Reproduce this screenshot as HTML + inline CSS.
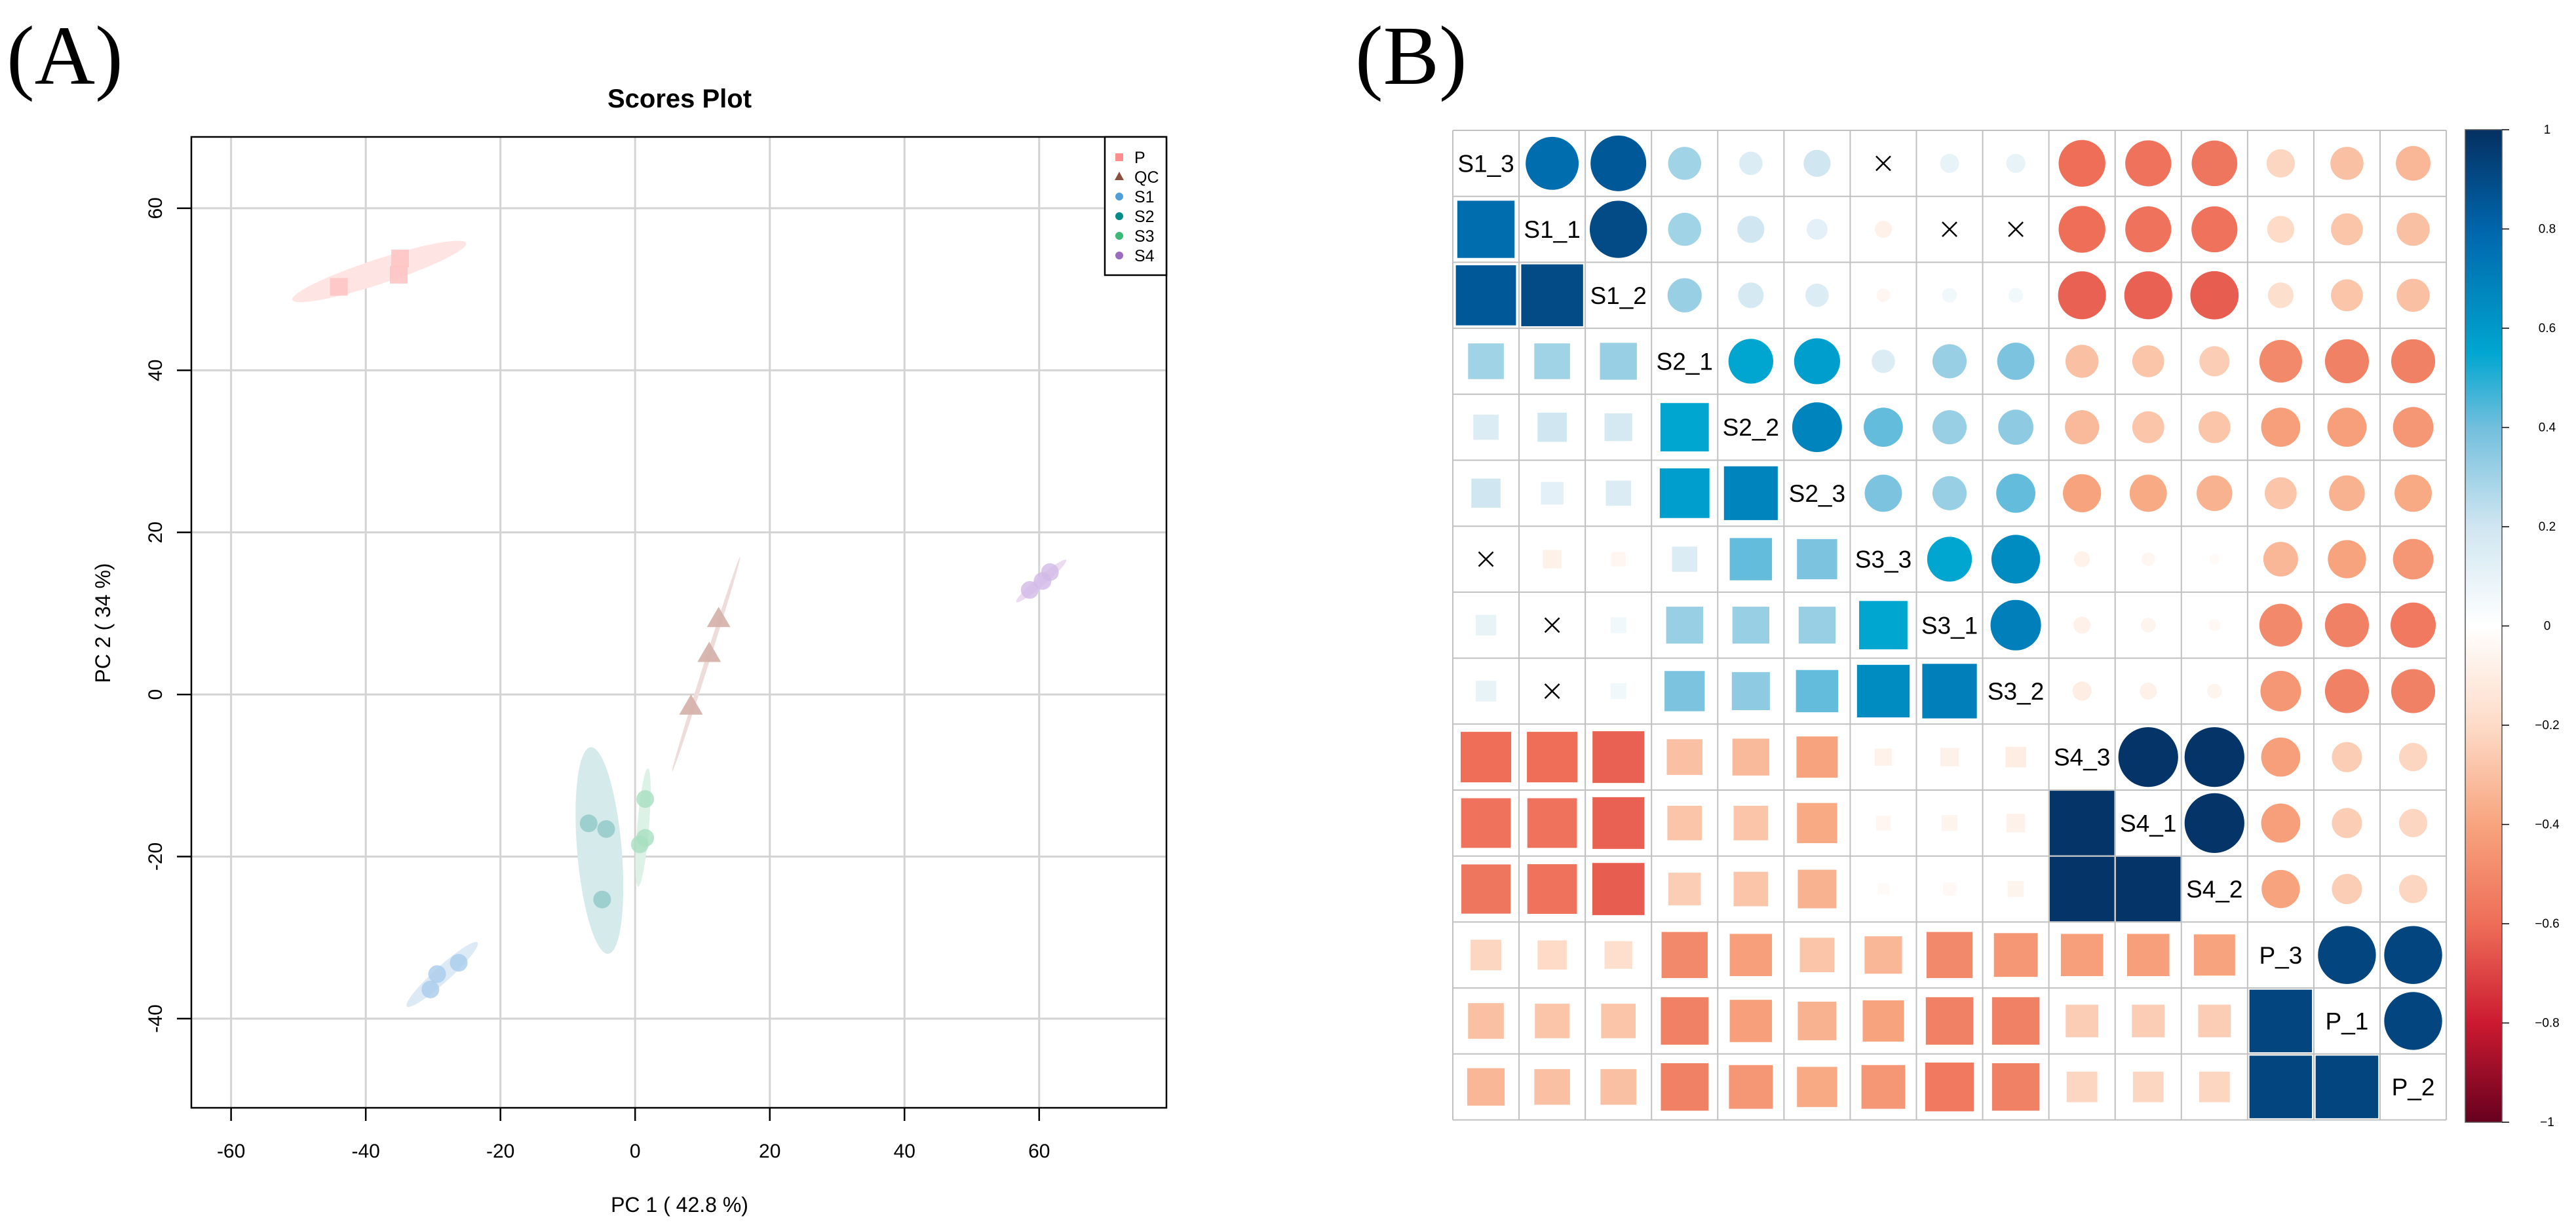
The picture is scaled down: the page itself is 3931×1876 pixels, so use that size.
<!DOCTYPE html>
<html><head><meta charset="utf-8"><style>
html,body{margin:0;padding:0;background:#fff;}
svg{display:block;font-family:"Liberation Sans",sans-serif;}
</style></head><body>
<svg id="fig" width="3931" height="1876" viewBox="0 0 3931 1876" xmlns="http://www.w3.org/2000/svg">
<text x="10" y="128" font-family="Liberation Serif,serif" font-size="128">(A)</text>
<text x="2068" y="128" font-family="Liberation Serif,serif" font-size="128">(B)</text>
<g id="pca"></g>
<g id="corr"></g>
</svg>
<script>
// ---------- Panel A data ----------
const xTicks = [-60,-40,-20,0,20,40,60];
const yTicks = [-40,-20,0,20,40,60];
const groups = ['P','QC','S1','S2','S3','S4'];
const groupX = {P:[-44.0,-34.9,-35.1], QC:[12.4,11.0,8.3], S1:[-30.4,-29.4,-26.2], S2:[-6.9,-4.3,-4.9], S3:[1.5,1.5,0.7], S4:[58.6,60.5,61.6]};
const groupY = {P:[50.3,53.8,51.8], QC:[9.2,4.9,-1.6], S1:[-36.4,-34.5,-33.1], S2:[-15.9,-16.6,-25.3], S3:[-12.9,-17.7,-18.5], S4:[12.9,14.0,15.1]};
const ellX1 = {P:-50.9, QC:15.6, S1:-33.9, S2:-6.6, S3:1.9, S4:56.6};
const ellY1 = {P:48.7, QC:17.0, S1:-38.5, S2:-6.5, S3:-9.1, S4:11.4};
const ellX2 = {P:-25.1, QC:5.5, S1:-23.4, S2:-4.0, S3:0.45, S4:64.0};
const ellY2 = {P:55.7, QC:-9.5, S1:-30.6, S2:-32.0, S3:-23.7, S4:16.6};
const minorPx = {P:19, QC:3.5, S1:12, S2:34, S3:9, S4:7};
const ptCol = {P:'#FFC4C4', QC:'#D4AFA8', S1:'#A8CCEC', S2:'#8EC8C8', S3:'#A8DEC0', S4:'#D2B9E6'};
const ellCol = {P:'#FFE4E4', QC:'#EDDCD9', S1:'#DCEAF6', S2:'#D5EAEA', S3:'#DDF2E6', S4:'#EBDCF2'};
const legCol = {P:'#FF8F8F', QC:'#8C5040', S1:'#4F9FD8', S2:'#008B8B', S3:'#3CB878', S4:'#9B6BC0'};

// ---------- Panel B data ----------
const labels = ['S1_3','S1_1','S1_2','S2_1','S2_2','S2_3','S3_3','S3_1','S3_2','S4_3','S4_1','S4_2','P_3','P_1','P_2'];
const corrRows = [
 [0.77,0.85,0.30,0.15,0.20,0.00,0.10,0.10,-0.60,-0.58,-0.57,-0.22,-0.30,-0.33],
 [0.90,0.30,0.20,0.12,-0.08,0.02,0.02,-0.60,-0.58,-0.58,-0.20,-0.28,-0.30],
 [0.32,0.18,0.15,-0.05,0.06,0.06,-0.63,-0.63,-0.64,-0.18,-0.28,-0.30],
 [0.55,0.58,0.15,0.32,0.38,-0.30,-0.28,-0.25,-0.50,-0.53,-0.53],
 [0.68,0.42,0.32,0.34,-0.32,-0.28,-0.28,-0.42,-0.42,-0.45],
 [0.38,0.32,0.42,-0.40,-0.38,-0.35,-0.28,-0.35,-0.38],
 [0.55,0.65,-0.07,-0.05,-0.03,-0.33,-0.40,-0.45],
 [0.70,-0.08,-0.06,-0.04,-0.50,-0.53,-0.56],
 [-0.10,-0.08,-0.06,-0.45,-0.53,-0.53],
 [0.98,0.98,-0.42,-0.25,-0.22],
 [0.98,-0.42,-0.25,-0.22],
 [-0.40,-0.25,-0.22],
 [0.92,0.92],
 [0.92]
];
const insigI = [0,1,1];
const insigJ = [6,7,8];
const cbTicks = [1,0.8,0.6,0.4,0.2,0,-0.2,-0.4,-0.6,-0.8,-1];
const cbTickText = ['1','0.8','0.6','0.4','0.2','0','\u22120.2','\u22120.4','\u22120.6','\u22120.8','\u22121'];

const NS='http://www.w3.org/2000/svg';
function mk(tag, parent, attrs){const e=document.createElementNS(NS,tag);for(const k in attrs)e.setAttribute(k,attrs[k]);parent.appendChild(e);return e;}

// ===== Panel A =====
const A=document.getElementById('pca');
const L=292,R=1780,T=209,B=1691;
const X0=-65.9,X1=78.9,Y0=-51,Y1=68.8;
const sx=v=>L+(v-X0)/(X1-X0)*(R-L);
const sy=v=>B-(v-Y0)/(Y1-Y0)*(B-T);
let t=mk('text',A,{x:1037,y:164,'text-anchor':'middle','font-size':40,'font-weight':'bold'});t.textContent='Scores Plot';


xTicks.forEach(v=>{
 const l=mk('line',A,{x1:sx(v),x2:sx(v),y1:T,y2:B,stroke:'#d3d3d3','stroke-width':3});
 
 
 const tk=mk('line',A,{x1:sx(v),x2:sx(v),y1:B,y2:B+20,stroke:'#000','stroke-width':2.5});
 
 
 const tx=mk('text',A,{x:sx(v),y:1767,'text-anchor':'middle','font-size':30});tx.textContent=v;
 
 
});
yTicks.forEach(v=>{
 const l=mk('line',A,{x1:L,x2:R,y1:sy(v),y2:sy(v),stroke:'#d3d3d3','stroke-width':3});
 
 
 const tk=mk('line',A,{x1:L-22,x2:L,y1:sy(v),y2:sy(v),stroke:'#000','stroke-width':2.5});
 
 
 const tx=mk('text',A,{x:0,y:0,'text-anchor':'middle','font-size':30,transform:`translate(247,${sy(v)}) rotate(-90)`});tx.textContent=v;
 
 
});
groups.forEach(g=>{
 const ax=sx(ellX1[g]),ay=sy(ellY1[g]),bx=sx(ellX2[g]),by=sy(ellY2[g]);
 const cx=(ax+bx)/2,cy=(ay+by)/2,rx=Math.hypot(bx-ax,by-ay)/2,ang=Math.atan2(by-ay,bx-ax)*180/Math.PI;
 const e=mk('ellipse',A,{cx:cx,cy:cy,rx:rx,ry:minorPx[g],fill:ellCol[g],transform:`rotate(${ang} ${cx} ${cy})`});
 
 
});
groups.forEach(g=>{
 groupX[g].forEach((xv,i)=>{
  const px=sx(xv),py=sy(groupY[g][i]);let m;
  if(g==='P') m=mk('rect',A,{x:px-13.5,y:py-13.5,width:27,height:27,fill:ptCol[g],'fill-opacity':0.9});
  else if(g==='QC') m=mk('polygon',A,{points:`${px},${py-20} ${px-18},${py+11} ${px+18},${py+11}`,fill:ptCol[g],'fill-opacity':0.9});
  else m=mk('circle',A,{cx:px,cy:py,r:13.5,fill:ptCol[g],'fill-opacity':0.8});
  
  
 });
});
const fr=mk('rect',A,{x:L,y:T,width:R-L,height:B-T,fill:'none',stroke:'#000','stroke-width':2.5});


t=mk('text',A,{x:1037,y:1850,'text-anchor':'middle','font-size':32});t.textContent='PC 1 ( 42.8 %)';


t=mk('text',A,{x:0,y:0,'text-anchor':'middle','font-size':32,transform:'translate(168,951) rotate(-90)'});t.textContent='PC 2 ( 34 %)';


const lg=mk('g',A,{});


const lb=mk('rect',lg,{x:1686,y:T,width:R-1686,height:211,fill:'#fff',stroke:'#000','stroke-width':2.5});


groups.forEach((g,i)=>{
 const y=240+i*30;let m;
 if(g==='P') m=mk('rect',lg,{x:1702,y:y-6,width:12,height:12,fill:legCol[g]});
 else if(g==='QC') m=mk('polygon',lg,{points:`1708,${y-8} 1701,${y+5} 1715,${y+5}`,fill:legCol[g]});
 else m=mk('circle',lg,{cx:1708,cy:y,r:6,fill:legCol[g]});
 
 
 const tx=mk('text',lg,{x:1731,y:y+9,'font-size':25});tx.textContent=g;
 
 
});

// ===== Panel B =====
const C=document.getElementById('corr');
const GL=2217,GT=199,CW=101.07,CH=100.7,N=labels.length;
const stops=[[-1,'#67001F'],[-0.8,'#CC1A30'],[-0.6,'#EE6E58'],[-0.4,'#F7A47E'],[-0.2,'#FDDBC7'],[0,'#FFFFFF'],[0.2,'#D0E6F1'],[0.4,'#72BFDD'],[0.55,'#00A6D0'],[0.8,'#0065AB'],[1,'#053061']];
function hex(h){return [1,3,5].map(i=>parseInt(h.substr(i,2),16));}
function col(r){for(let i=0;i<stops.length-1;i++){const a=stops[i],b=stops[i+1];if(r<=b[0]){const f=(r-a[0])/(b[0]-a[0]);const c1=hex(a[1]),c2=hex(b[1]);return 'rgb('+c1.map((v,k)=>Math.round(v+(c2[k]-v)*f)).join(',')+')';}}return stops[stops.length-1][1];}
function corr(i,j){if(i===j)return 1;const a=Math.min(i,j),b=Math.max(i,j);return corrRows[a][b-a-1];}
function insig(i,j){const a=Math.min(i,j),b=Math.max(i,j);for(let k=0;k<insigI.length;k++)if(insigI[k]===a&&insigJ[k]===b)return true;return false;}
for(let i=0;i<N;i++)for(let j=0;j<N;j++){
 const cx=GL+(j+0.5)*CW,cy=GT+(i+0.5)*CH;
 if(i===j){const tx=mk('text',C,{x:cx,y:cy+13,'text-anchor':'middle','font-size':37});tx.textContent=labels[i];
  
  continue;}
 const r=corr(i,j);
 if(insig(i,j)){const g=mk('path',C,{d:`M${cx-11},${cy-11}L${cx+11},${cy+11}M${cx-11},${cy+11}L${cx+11},${cy-11}`,stroke:'#000','stroke-width':2.5,fill:'none'});
  
  continue;}
 let m;
 if(j>i){m=mk('circle',C,{cx:cx,cy:cy,r:0.456*CW*Math.sqrt(Math.abs(r)),fill:col(r)});
  }
 else{const s=CW*Math.sqrt(Math.abs(r))*0.985;m=mk('rect',C,{x:cx-s/2,y:cy-s/2,width:s,height:s,fill:col(r)});
  }
 
}
for(let k=0;k<=N;k++){
 const v=mk('line',C,{x1:GL+k*CW,x2:GL+k*CW,y1:GT,y2:GT+N*CH,stroke:'#c0c0c0','stroke-width':2});
 
 
 const h=mk('line',C,{x1:GL,x2:GL+N*CW,y1:GT+k*CH,y2:GT+k*CH,stroke:'#c0c0c0','stroke-width':2});
 
 
}
const CBL=3762,CBR=3818,CBT=198,CBB=1713;
const cy=v=>CBT+(1-v)/2*(CBB-CBT);
const defs=mk('defs',C,{});
const lgd=mk('linearGradient',defs,{id:'cbg',x1:0,y1:0,x2:0,y2:1});
stops.slice().reverse().forEach(s=>mk('stop',lgd,{offset:((1-s[0])/2*100)+'%','stop-color':s[1]}));
const cb=mk('rect',C,{x:CBL,y:CBT,width:CBR-CBL,height:CBB-CBT,fill:'url(#cbg)',stroke:'#555','stroke-width':1.5});


cbTicks.forEach((v,i)=>{
 const l=mk('line',C,{x1:CBR,x2:CBR+11,y1:cy(v),y2:cy(v),stroke:'#000','stroke-width':1.5});
 
 
 const tx=mk('text',C,{x:3887,y:cy(v)+6,'text-anchor':'middle','font-size':19});tx.textContent=cbTickText[i];
 
 
});
</script>
</body></html>
